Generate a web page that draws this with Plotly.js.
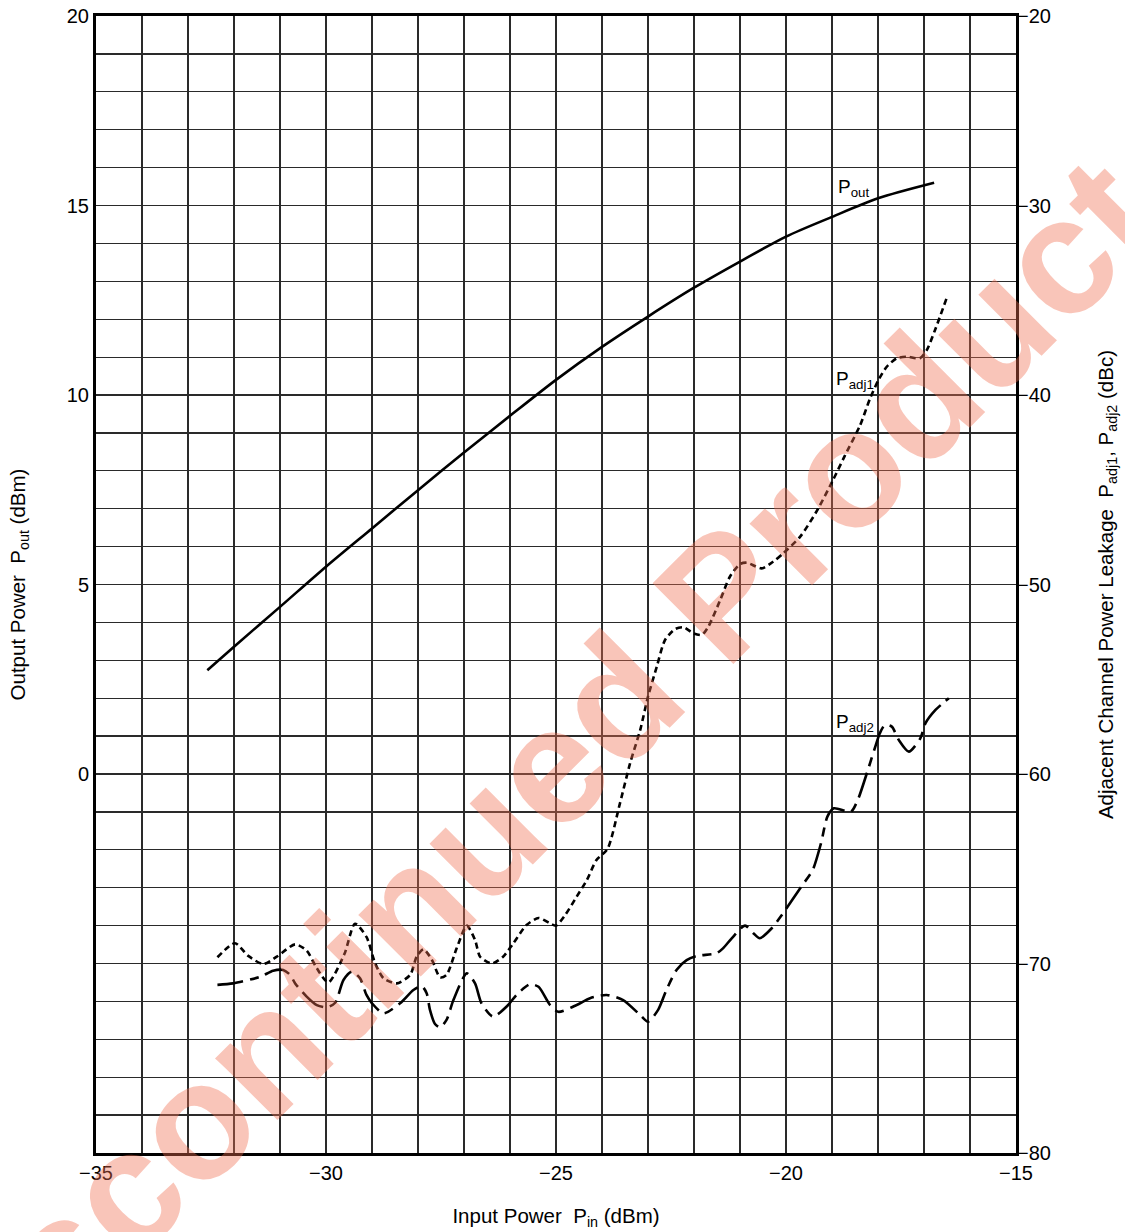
<!DOCTYPE html>
<html>
<head>
<meta charset="utf-8">
<script src="https://cdn.plot.ly/plotly-3.0.1.min.js"></script>
<style>html,body{margin:0;padding:0;background:#fff;}#chart{width:1125px;height:1232px;}</style>
</head>
<body>
<div id="chart"></div>
<script>
// Output power Pout (dBm) vs input power Pin (dBm)
const poutPin = [-32.58,-32,-31,-30,-29,-28,-27,-26,-25,-24,-23,-22,-21,-20,-19,-18,-16.78];
const poutVal = [2.74,3.36,4.41,5.47,6.48,7.49,8.48,9.45,10.4,11.27,12.07,12.83,13.52,14.18,14.70,15.19,15.60];

// Adjacent channel leakage Padj1 (dBc)
const padj1Pin = [-32.36,-31.98,-31.69,-31.36,-31.07,-30.67,-30.42,-30.2,-29.95,-29.6,-29.37,-29.12,-28.93,-28.75,-28.46,-28.17,-28.03,-27.88,-27.7,-27.52,-27.38,-27.16,-26.94,-26.76,-26.65,-26.4,-26.15,-25.93,-25.64,-25.38,-25.13,-25.0,-24.8,-24.55,-24.33,-24.12,-23.88,-23.61,-23.39,-23.17,-23.0,-22.81,-22.63,-22.41,-22.23,-22.01,-21.83,-21.69,-21.43,-21.22,-21.0,-20.85,-20.53,-20.28,-20.06,-19.7,-19.35,-19.0,-18.72,-18.39,-18.17,-17.99,-17.81,-17.59,-17.37,-17.09,-16.94,-16.76,-16.51];
const padj1Val = [-69.67,-68.93,-69.6,-70.03,-69.64,-68.99,-69.32,-70.25,-71.0,-69.5,-67.9,-68.6,-70.0,-70.78,-71.05,-70.6,-69.64,-69.25,-69.8,-70.73,-70.6,-69.2,-68.0,-68.76,-69.64,-70.0,-69.64,-68.94,-67.97,-67.6,-67.88,-68.0,-67.44,-66.47,-65.6,-64.54,-63.95,-61.55,-59.44,-57.68,-55.92,-54.34,-52.93,-52.35,-52.26,-52.58,-52.66,-52.23,-50.82,-49.59,-48.92,-48.85,-49.15,-48.8,-48.35,-47.5,-46.2,-44.6,-43.2,-41.6,-40.17,-39.21,-38.51,-38.06,-37.98,-38.06,-37.63,-36.57,-34.9];

// Adjacent channel leakage Padj2 (dBc)
const padj2Pin = [-32.36,-32.02,-31.43,-31.15,-30.93,-30.78,-30.67,-30.42,-30.2,-29.98,-29.8,-29.62,-29.44,-29.26,-29.12,-29.0,-28.75,-28.39,-28.1,-27.92,-27.81,-27.74,-27.63,-27.52,-27.38,-27.23,-26.94,-26.76,-26.62,-26.37,-26.04,-25.86,-25.57,-25.38,-25.13,-24.95,-24.55,-24.26,-23.9,-23.54,-23.17,-23.0,-22.78,-22.6,-22.38,-22.16,-21.94,-21.51,-21.37,-21.18,-20.89,-20.71,-20.57,-20.31,-20.09,-19.67,-19.42,-19.24,-19.1,-18.96,-18.59,-18.44,-18.22,-18.07,-17.96,-17.85,-17.7,-17.55,-17.33,-17.08,-16.97,-16.75,-16.46];
const padj2Val = [-71.13,-71.05,-70.7,-70.38,-70.34,-70.6,-71.05,-71.75,-72.2,-72.31,-72.07,-70.87,-70.43,-70.78,-71.66,-72.1,-72.63,-72.1,-71.4,-71.19,-71.58,-72.45,-73.19,-73.37,-72.98,-71.93,-70.52,-71.05,-72.1,-72.8,-72.19,-71.66,-71.1,-71.23,-72.19,-72.55,-72.19,-71.83,-71.66,-71.93,-72.72,-73.07,-72.45,-71.4,-70.34,-69.82,-69.6,-69.46,-69.2,-68.67,-68.0,-68.4,-68.67,-68.14,-67.44,-65.95,-65.07,-63.66,-62.25,-61.81,-61.99,-61.37,-59.79,-58.64,-57.85,-57.41,-57.5,-58.2,-58.82,-58.12,-57.33,-56.62,-56.0];

// Axis ticks
const xTicks = [-35,-30,-25,-20,-15];
const yLeftTicks = [0,5,10,15,20];
const yRightTicks = [-80,-70,-60,-50,-40,-30,-20];

const FONT = 'Liberation Sans, Arial, Helvetica, sans-serif';
const GRID = '#2a2a2a';

const traces = [
  {x: poutPin, y: poutVal, type: 'scatter', mode: 'lines', yaxis: 'y',
   line: {color: '#000', width: 2.6, shape: 'spline', smoothing: 0.8}, hoverinfo: 'skip'},
  {x: padj1Pin, y: padj1Val, type: 'scatter', mode: 'lines', yaxis: 'y2',
   line: {color: '#000', width: 2.6, shape: 'spline', smoothing: 0.7, dash: '6px,4px'}, hoverinfo: 'skip'},
  {x: padj2Pin, y: padj2Val, type: 'scatter', mode: 'lines', yaxis: 'y2',
   line: {color: '#000', width: 2.6, shape: 'spline', smoothing: 0.7, dash: '26px,7px,9px,7px'}, hoverinfo: 'skip'}
];

const layout = {
  width: 1125, height: 1232,
  margin: {l: 96, r: 109, t: 16, b: 79, pad: 0},
  paper_bgcolor: '#fff', plot_bgcolor: '#fff',
  showlegend: false,
  font: {family: FONT, color: '#000', size: 20},
  xaxis: {
    range: [-35, -15], tickvals: xTicks, ticks: '', showgrid: true,
    gridcolor: GRID, gridwidth: 1.2,
    minor: {dtick: 1, showgrid: true, gridcolor: GRID, gridwidth: 1.2, ticks: ''},
    showline: true, linecolor: '#000', linewidth: 3, mirror: true, zeroline: false,
    tickfont: {size: 20, family: FONT},
    title: {text: 'Input Power\u00a0\u00a0P<sub>in</sub> (dBm)', font: {size: 20.5, family: FONT}, standoff: 26}
  },
  yaxis: {
    range: [-10, 20], tickvals: yLeftTicks, ticks: '', showgrid: true,
    gridcolor: GRID, gridwidth: 1.2,
    minor: {dtick: 1, showgrid: true, gridcolor: GRID, gridwidth: 1.2, ticks: ''},
    showline: true, linecolor: '#000', linewidth: 3, mirror: true, zeroline: false,
    tickfont: {size: 20, family: FONT},
    title: {text: 'Output Power\u00a0\u00a0P<sub>out</sub> (dBm)', font: {size: 20.5, family: FONT}, standoff: 36}
  },
  yaxis2: {
    range: [-80, -20], tickvals: yRightTicks, overlaying: 'y', side: 'right',
    ticks: '', showgrid: false, zeroline: false, showline: false,
    tickfont: {size: 20, family: FONT},
    title: {text: 'Adjacent Channel Power Leakage\u00a0\u00a0P<sub>adj1</sub>, P<sub>adj2</sub> (dBc)', font: {size: 20.5, family: FONT}, standoff: 48}
  },
  annotations: [
    {x: -18.92, y: 15.46, xref: 'x', yref: 'y', text: 'P<sub>out</sub>', showarrow: false, xanchor: 'left', yanchor: 'middle', font: {size: 19, family: FONT}},
    {x: -18.96, y: 10.40, xref: 'x', yref: 'y', text: 'P<sub>adj1</sub>', showarrow: false, xanchor: 'left', yanchor: 'middle', font: {size: 19, family: FONT}},
    {x: -18.96, y: 1.35, xref: 'x', yref: 'y', text: 'P<sub>adj2</sub>', showarrow: false, xanchor: 'left', yanchor: 'middle', font: {size: 19, family: FONT}},
    {x: 0.459, y: 0.313, xref: 'paper', yref: 'paper', text: '<b>Discontinued Product</b>', showarrow: false,
     textangle: -45, xanchor: 'center', yanchor: 'middle',
     font: {size: 166, family: FONT, color: 'rgba(240,110,80,0.4)'}}
  ]
};

Plotly.newPlot('chart', traces, layout, {displayModeBar: false, staticPlot: true});
</script>
</body>
</html>
